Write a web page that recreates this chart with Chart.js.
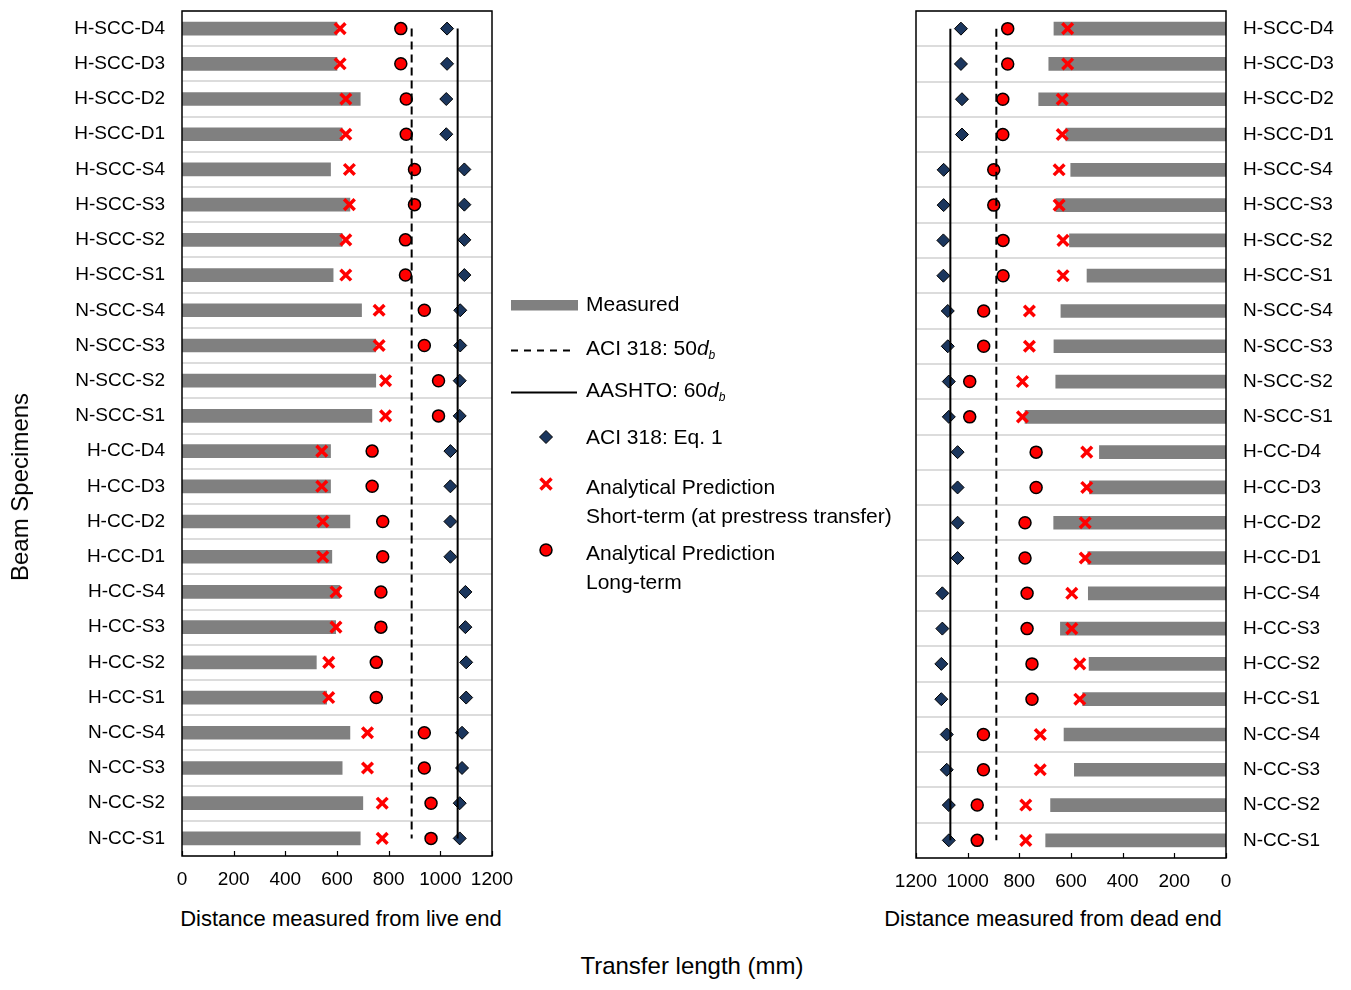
<!DOCTYPE html>
<html>
<head>
<meta charset="utf-8">
<script src="https://cdn.jsdelivr.net/npm/chart.js@4/dist/chart.umd.min.js"></script>
<style>
  html, body { margin: 0; padding: 0; background: #fff; }
  body { width: 1351px; height: 990px; position: relative; overflow: hidden;
         font-family: "Liberation Sans", Arial, sans-serif; color: #000; }
  canvas { position: absolute; }
  .title { position: absolute; white-space: nowrap; transform: translate(-50%, -50%); }
  .legtxt { position: absolute; left: 586px; font-size: 21px; line-height: 29px; white-space: nowrap; }
  .legtxt sub { font-size: 12px; font-style: italic; position: relative; bottom: -0.3em; vertical-align: baseline; }
</style>
</head>
<body>
<canvas id="liveEnd" width="530" height="900" style="left:0;top:0;width:530px;height:900px"></canvas>
<canvas id="deadEnd" width="491" height="900" style="left:860px;top:0;width:491px;height:900px"></canvas>

<div class="title" style="left:20px;top:487px;font-size:24px;transform:translate(-50%,-50%) rotate(-90deg)">Beam Specimens</div>
<div class="title" style="left:341px;top:919px;font-size:22px">Distance measured from live end</div>
<div class="title" style="left:1053px;top:919px;font-size:22px">Distance measured from dead end</div>
<div class="title" style="left:692px;top:966px;font-size:24px">Transfer length (mm)</div>

<!-- legend symbols -->
<svg style="position:absolute;left:500px;top:290px" width="100" height="300" viewBox="500 290 100 300">
  <rect x="511" y="300" width="67" height="10.5" fill="#808080"/>
  <line x1="511" y1="350.5" x2="573" y2="350.5" stroke="#000" stroke-width="2" stroke-dasharray="7,6"/>
  <line x1="511" y1="392.5" x2="577" y2="392.5" stroke="#000" stroke-width="2"/>
  <polygon points="546,430.5 552.5,437 546,443.5 539.5,437" fill="#1b365d" stroke="#000" stroke-width="1"/>
  <path d="M540.5,478.5 L551.5,489.5 M551.5,478.5 L540.5,489.5" stroke="#ff0000" stroke-width="3.5"/>
  <circle cx="546" cy="550" r="6" fill="#ff0000" stroke="#000" stroke-width="1.5"/>
</svg>
<div class="legtxt" style="top:289px">Measured</div>
<div class="legtxt" style="top:333px">ACI 318: 50<i>d</i><sub>b</sub></div>
<div class="legtxt" style="top:375px">AASHTO: 60<i>d</i><sub>b</sub></div>
<div class="legtxt" style="top:422px">ACI 318: Eq. 1</div>
<div class="legtxt" style="top:472px">Analytical Prediction<br>Short-term (at prestress transfer)</div>
<div class="legtxt" style="top:538px">Analytical Prediction<br>Long-term</div>

<script>
// Beam specimens, listed top to bottom
const categories = [
  'H-SCC-D4', 'H-SCC-D3', 'H-SCC-D2', 'H-SCC-D1',
  'H-SCC-S4', 'H-SCC-S3', 'H-SCC-S2', 'H-SCC-S1',
  'N-SCC-S4', 'N-SCC-S3', 'N-SCC-S2', 'N-SCC-S1',
  'H-CC-D4', 'H-CC-D3', 'H-CC-D2', 'H-CC-D1',
  'H-CC-S4', 'H-CC-S3', 'H-CC-S2', 'H-CC-S1',
  'N-CC-S4', 'N-CC-S3', 'N-CC-S2', 'N-CC-S1'
];

// Transfer length (mm), live end
const liveMeasured  = [600, 600, 690, 620, 575, 650, 620, 585, 695, 750, 750, 735, 575, 575, 650, 580, 610, 595, 520, 560, 650, 620, 700, 690];
const liveShortTerm = [612, 612, 634, 634, 648, 648, 634, 634, 763, 763, 788, 788, 541, 541, 545, 545, 596, 596, 568, 568, 718, 718, 775, 775];
const liveLongTerm  = [847, 847, 868, 868, 900, 900, 865, 865, 938, 938, 993, 993, 736, 736, 777, 777, 770, 770, 752, 752, 938, 938, 964, 964];
const liveAciEq1    = [1026, 1026, 1023, 1023, 1093, 1093, 1093, 1093, 1077, 1077, 1075, 1075, 1039, 1039, 1039, 1039, 1097, 1097, 1100, 1100, 1084, 1084, 1075, 1075];

// Transfer length (mm), dead end
const deadMeasured  = [666, 686, 725, 620, 601, 658, 606, 538, 639, 666, 659, 778, 490, 529, 667, 535, 533, 641, 530, 555, 627, 587, 679, 698];
const deadShortTerm = [613, 613, 634, 634, 646, 646, 631, 631, 761, 761, 788, 788, 539, 539, 545, 545, 597, 597, 566, 566, 719, 719, 775, 775];
const deadLongTerm  = [845, 845, 864, 864, 899, 899, 863, 863, 938, 938, 992, 992, 735, 735, 778, 778, 770, 770, 751, 751, 939, 939, 963, 963];
const deadAciEq1    = [1026, 1026, 1022, 1022, 1093, 1093, 1094, 1094, 1077, 1077, 1073, 1073, 1039, 1039, 1039, 1039, 1098, 1098, 1102, 1102, 1081, 1081, 1073, 1073];

// Code limits (mm)
const aci50db = 889;
const aashto60db = 1067;

// Distance axis ticks
const distanceTicks = [0, 200, 400, 600, 800, 1000, 1200];

Chart.defaults.font.family = '"Liberation Sans", Arial, sans-serif';
Chart.defaults.color = '#000';

// Plot frame plus short inward tick marks on the distance axis
const framePlugin = {
  id: 'frame',
  afterDraw(chart) {
    const { ctx, chartArea: a, scales: { x } } = chart;
    ctx.save();
    ctx.strokeStyle = '#000';
    ctx.lineWidth = 1.5;
    ctx.strokeRect(a.left, a.top, a.right - a.left, a.bottom - a.top);
    ctx.beginPath();
    x.ticks.forEach((t, i) => {
      const px = Math.round(x.getPixelForTick(i)) + 0.5;
      ctx.moveTo(px, a.bottom);
      ctx.lineTo(px, a.bottom - 5);
    });
    ctx.lineWidth = 1.2;
    ctx.stroke();
    ctx.restore();
  }
};

function limitLine(value, dash) {
  return {
    type: 'line', indexAxis: 'y', order: 1,
    data: [{ x: value, y: categories[0] }, { x: value, y: categories[categories.length - 1] }],
    borderColor: '#000', borderWidth: 2, borderDash: dash,
    pointRadius: 0, fill: false
  };
}

function buildChart(id, measured, shortTerm, longTerm, aciEq1, side) {
  const right = side === 'dead';
  return new Chart(document.getElementById(id), {
    type: 'bar',
    data: {
      labels: categories,
      datasets: [
        limitLine(aci50db, [8, 5]),
        limitLine(aashto60db, []),
        {
          type: 'line', indexAxis: 'y', order: 2, data: longTerm, showLine: false,
          pointStyle: 'circle', pointRadius: 6, pointBackgroundColor: '#ff0000',
          pointBorderColor: '#000', pointBorderWidth: 1.5
        },
        {
          type: 'line', indexAxis: 'y', order: 3, data: shortTerm, showLine: false,
          pointStyle: 'crossRot', pointRadius: 7.5, pointBorderColor: '#ff0000',
          pointBorderWidth: 3.5, borderColor: '#ff0000'
        },
        {
          type: 'line', indexAxis: 'y', order: 4, data: aciEq1, showLine: false,
          pointStyle: 'rectRot', pointRadius: 6.5, pointBackgroundColor: '#1b365d',
          pointBorderColor: '#000', pointBorderWidth: 1
        },
        {
          type: 'bar', order: 5, data: measured, backgroundColor: '#808080',
          barThickness: 13, borderWidth: 0
        }
      ]
    },
    options: {
      indexAxis: 'y',
      responsive: false,
      animation: false,
      events: [],
      layout: right
        ? { padding: { left: 56, right: 0, top: 10, bottom: 0 } }
        : { padding: { left: 0, right: 38, top: 8, bottom: 0 } },
      plugins: { legend: { display: false }, tooltip: { enabled: false } },
      scales: {
        x: {
          type: 'linear', min: distanceTicks[0], max: distanceTicks[distanceTicks.length - 1],
          reverse: right,
          afterBuildTicks: s => { s.ticks = distanceTicks.map(v => ({ value: v })); },
          afterFit: s => { s.height = right ? 42 : 44; s.paddingLeft = 0; s.paddingRight = 0; },
          grid: { display: false, drawTicks: false },
          border: { display: false },
          ticks: { font: { size: 19 }, padding: 12, maxRotation: 0, autoSkip: false, callback: v => String(v) }
        },
        y: {
          type: 'category',
          position: right ? 'right' : 'left',
          afterFit: s => { s.width = right ? 125 : 182; s.paddingTop = 0; s.paddingBottom = 0; },
          grid: { color: '#dcdcdc', lineWidth: 2, drawTicks: false, offset: true },
          border: { display: false },
          ticks: { font: { size: 19 }, padding: 17, autoSkip: false }
        }
      }
    },
    plugins: [framePlugin]
  });
}

buildChart('liveEnd', liveMeasured, liveShortTerm, liveLongTerm, liveAciEq1, 'live');
buildChart('deadEnd', deadMeasured, deadShortTerm, deadLongTerm, deadAciEq1, 'dead');
</script>
</body>
</html>
